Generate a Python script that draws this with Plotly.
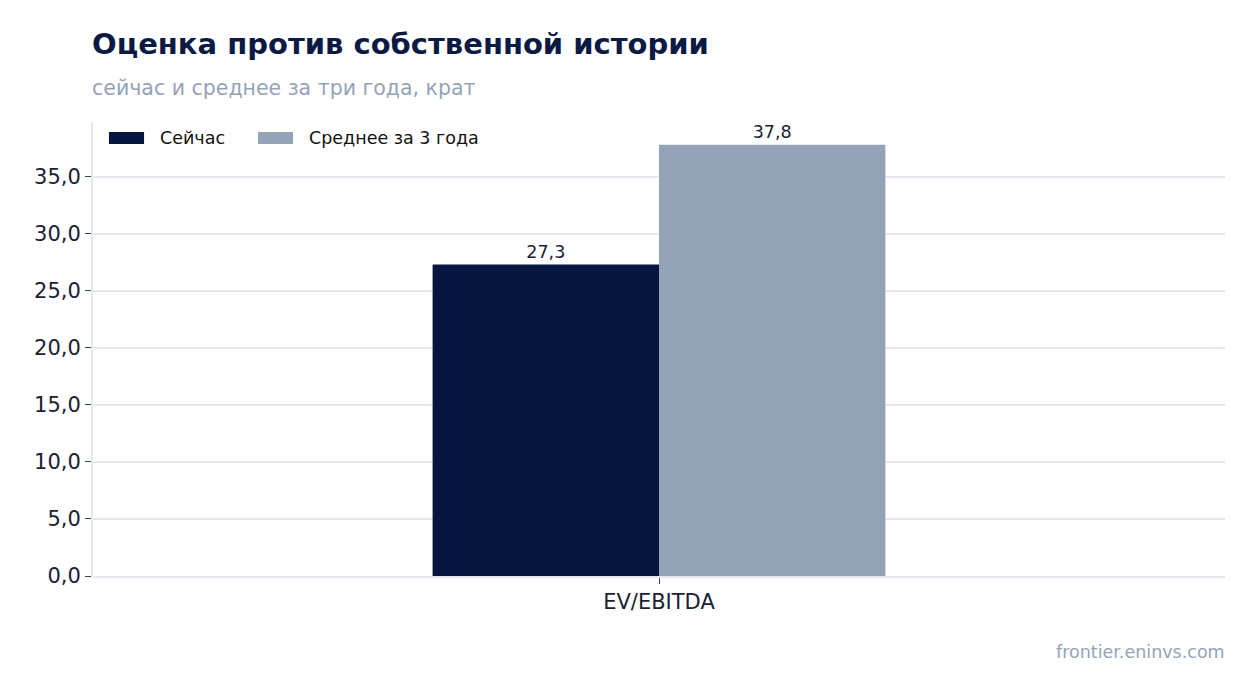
import plotly.graph_objects as go

# data
categories = ['EV/EBITDA']
now_values = [27.3]
avg_values = [37.8]
series_names = ['Сейчас', 'Среднее за 3 года']

NAVY = '#061640'
SLATE = '#94a3b8'
GRID = '#e3e8ef'
FONT = 'DejaVu Sans'

now_bar = go.Bar(
    x=categories, y=now_values, name=series_names[0],
    marker=dict(color=NAVY, line=dict(width=0)),
    text=[f'{v:.1f}'.replace('.', ',') for v in now_values],
    textposition='outside', cliponaxis=False,
    textfont=dict(size=17.5, color='#1a2035', family=FONT),
)
avg_bar = go.Bar(
    x=categories, y=avg_values, name=series_names[1],
    marker=dict(color=SLATE, line=dict(width=0)),
    text=[f'{v:.1f}'.replace('.', ',') for v in avg_values],
    textposition='outside', cliponaxis=False,
    textfont=dict(size=17.5, color='#1a2035', family=FONT),
)

fig = go.Figure(data=[now_bar, avg_bar])

# page has an 8px body offset, so margins are shifted a bit
fig.update_layout(
    width=1254, height=693,
    margin=dict(l=85, r=37, t=114, b=125),
    paper_bgcolor='white', plot_bgcolor='white',
    font=dict(family=FONT, color='#1a2035'),
    separators=',.',
    barmode='group', bargap=0.6, bargroupgap=0,
    showlegend=False,
)

fig.update_yaxes(
    range=[0, 39.8], tickformat='.1f', dtick=5,
    showgrid=True, gridcolor=GRID, gridwidth=2,
    showline=True, linecolor=GRID, linewidth=2,
    ticks='outside', ticklen=6, tickcolor='#444444',
    tickfont=dict(size=21, color='#1a2035'),
    zeroline=False,
)
fig.update_xaxes(
    showline=True, linecolor=GRID, linewidth=2,
    ticks='outside', ticklen=6, tickcolor='#444444',
    tickfont=dict(size=21, color='#1a2035'),
)

# hand-made legend with wide swatches
legend_items = [
    (series_names[0], NAVY, 0.0141, 0.0451, 0.0574),
    (series_names[1], SLATE, 0.1458, 0.1767, 0.1890),
]
for name, color, sx0, sx1, tx in legend_items:
    fig.add_shape(
        type='rect', xref='paper', yref='paper',
        x0=sx0, x1=sx1, y0=0.9515, y1=0.978,
        fillcolor=color, line=dict(width=0),
    )
    fig.add_annotation(
        text=name, xref='paper', yref='paper', x=tx, y=0.9648,
        xanchor='left', yanchor='middle', showarrow=False,
        font=dict(size=17.5, color='#111111', family=FONT),
    )

# title, subtitle and source
fig.add_annotation(
    text='<b>Оценка против собственной истории</b>',
    xref='paper', yref='paper', x=0, y=1, xshift=-3, yshift=78,
    xanchor='left', yanchor='middle', showarrow=False,
    font=dict(size=29, color='#0b1a44', family=FONT),
)
fig.add_annotation(
    text='сейчас и среднее за три года, крат',
    xref='paper', yref='paper', x=0, y=1, xshift=-3, yshift=34,
    xanchor='left', yanchor='middle', showarrow=False,
    font=dict(size=20.5, color=SLATE, family=FONT),
)
fig.add_annotation(
    text='frontier.eninvs.com',
    xref='paper', yref='paper', x=1, y=0, xshift=2, yshift=-76,
    xanchor='right', yanchor='middle', showarrow=False,
    font=dict(size=17.5, color=SLATE, family=FONT),
)

fig.write_html('out.html')
